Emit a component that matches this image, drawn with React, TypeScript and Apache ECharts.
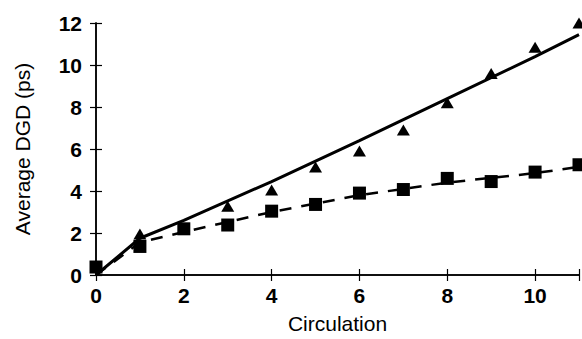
import React, { useEffect, useRef } from "react";
import * as echarts from "echarts";

const circulation = [0, 1, 2, 3, 4, 5, 6, 7, 8, 9, 10, 11];
const triangleX = [1, 3, 4, 5, 6, 7, 8, 9, 10, 11];
const triangleY = [1.95, 3.27, 4.05, 5.14, 5.9, 6.9, 8.2, 9.6, 10.85, 12.0];
const squareY = [0.38, 1.36, 2.2, 2.38, 3.04, 3.36, 3.9, 4.07, 4.6, 4.45, 4.9, 5.25];
const solidFitX = [0, 1, 2, 4, 6, 8, 10, 11];
const solidFitY = [0, 1.75, 2.6, 4.45, 6.4, 8.4, 10.4, 11.45];
const dashedFitX = [0, 1, 2, 4, 6, 8, 10, 11];
const dashedFitY = [0, 1.55, 2.05, 3.0, 3.8, 4.4, 4.85, 5.15];
const xTicks = [0, 2, 4, 6, 8, 10];
const yTicks = [0, 2, 4, 6, 8, 10, 12];

const font = "Arial, 'Liberation Sans', sans-serif";

export default function App() {
  const ref = useRef<HTMLDivElement>(null);
  useEffect(() => {
    const chart = echarts.init(ref.current!, null, { renderer: "svg" });
    const axisLine = { show: true, lineStyle: { color: "#000", width: 1.5 } };
    const tick = { show: true, inside: true, length: 6, lineStyle: { color: "#000", width: 1.2 } };
    chart.setOption({
      animation: false,
      backgroundColor: "#fff",
      grid: { left: 96, right: 3, top: 23, bottom: 59, show: false },
      xAxis: [
        {
          type: "value",
          min: 0,
          max: 11,
          interval: 2,
          name: "Circulation",
          nameLocation: "middle",
          nameGap: 38,
          nameTextStyle: { color: "#000", fontSize: 21, fontFamily: font },
          axisLine,
          axisTick: tick,
          axisLabel: {
            color: "#000",
            fontSize: 21,
            fontWeight: "bold",
            fontFamily: font,
            margin: 10,
            formatter: (v: number) => (xTicks.includes(v) ? String(v) : ""),
          },
          splitLine: { show: false },
        },
        {
          type: "value",
          position: "top",
          min: 0,
          max: 11,
          interval: 2,
          axisLine,
          axisTick: tick,
          axisLabel: { show: false },
          splitLine: { show: false },
        },
      ],
      yAxis: [
        {
          type: "value",
          min: 0,
          max: 12,
          interval: 2,
          name: "Average DGD (ps)",
          nameLocation: "middle",
          nameGap: 63,
          nameTextStyle: { color: "#000", fontSize: 21, fontFamily: font },
          axisLine,
          axisTick: tick,
          axisLabel: {
            color: "#000",
            fontSize: 21,
            fontWeight: "bold",
            fontFamily: font,
            margin: 14,
            formatter: (v: number) => (yTicks.includes(v) ? String(v) : ""),
          },
          splitLine: { show: false },
        },
        {
          type: "value",
          position: "right",
          min: 0,
          max: 12,
          interval: 2,
          axisLine,
          axisTick: tick,
          axisLabel: { show: false },
          splitLine: { show: false },
        },
      ],
      series: [
        {
          type: "line",
          data: solidFitX.map((x, i) => [x, solidFitY[i]]),
          showSymbol: false,
          lineStyle: { color: "#000", width: 3, type: "solid" },
          z: 3,
        },
        {
          type: "line",
          data: dashedFitX.map((x, i) => [x, dashedFitY[i]]),
          showSymbol: false,
          lineStyle: { color: "#000", width: 2.5, type: [12, 10] },
          z: 2,
        },
        {
          type: "scatter",
          data: triangleX.map((x, i) => [x, triangleY[i]]),
          symbol: "triangle",
          symbolSize: [13, 11],
          itemStyle: { color: "#000", opacity: 1 },
          clip: false,
          z: 4,
        },
        {
          type: "scatter",
          data: circulation.map((x, i) => [x, squareY[i]]),
          symbol: "rect",
          symbolSize: 13,
          itemStyle: { color: "#000", opacity: 1 },
          clip: false,
          z: 4,
        },
      ],
    });
    return () => chart.dispose();
  }, []);
  return <div ref={ref} style={{ width: 582, height: 339, position: "absolute", left: 0, top: 0 }} />;
}
